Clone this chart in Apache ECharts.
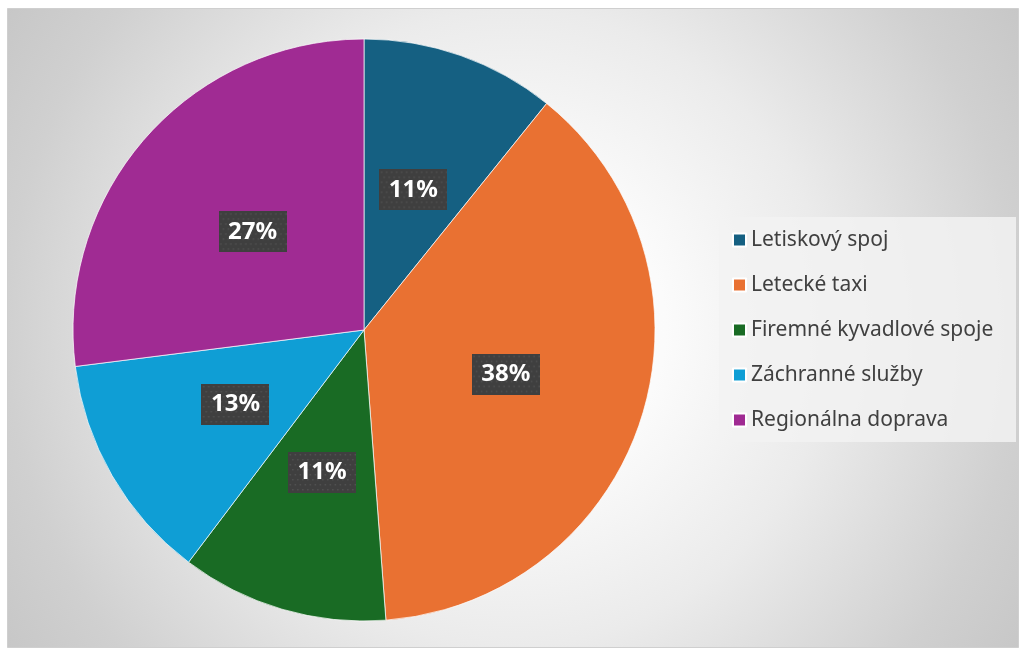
<!DOCTYPE html>
<html>
<head>
<meta charset="utf-8">
<script src="https://cdn.jsdelivr.net/npm/echarts@6/dist/echarts.min.js"></script>
<style>
  html, body { margin: 0; padding: 0; background: #fff; }
  #chart { width: 1019px; height: 648px; }
</style>
</head>
<body>
<div id="chart"></div>
<script>
// categories and shares
var categories = ["Letiskový spoj", "Letecké taxi", "Firemné kyvadlové spoje", "Záchranné služby", "Regionálna doprava"];
var shares = [10.8, 38.0, 11.5, 12.7, 27.0];
var colors = ["#156082", "#E97132", "#196B24", "#0F9ED5", "#A02B93"];

var pieData = categories.map(function (name, i) {
  return { name: name, value: shares[i] };
});

// dotted dark fill for the data label boxes
function dotBox(w, h) {
  var c = document.createElement("canvas");
  c.width = w;
  c.height = h;
  var ctx = c.getContext("2d");
  ctx.fillStyle = "#3f3f3f";
  ctx.fillRect(0, 0, w, h);
  ctx.fillStyle = "#525252";
  for (var y = 2, row = 0; y < h; y += 5, row++) {
    for (var x = (row % 2 ? 4 : 1.5); x < w; x += 5) {
      ctx.fillRect(x, y, 1.5, 1.5);
    }
  }
  return c;
}
var labelBg = dotBox(68, 41);

var chart = echarts.init(document.getElementById("chart"));
chart.setOption({
  color: colors,
  animation: false,
  graphic: [
    {
      type: "rect",
      z: -10,
      shape: { x: 7.5, y: 8.5, width: 1011, height: 639 },
      style: {
        fill: {
          type: "radial", x: 513, y: 328, r: 610, global: true,
          colorStops: [
            { offset: 0, color: "#ffffff" },
            { offset: 0.25, color: "#fbfbfb" },
            { offset: 0.52, color: "#ebebeb" },
            { offset: 0.83, color: "#d0d0d0" },
            { offset: 1, color: "#c6c6c6" }
          ]
        },
        stroke: "#cfcfcf",
        lineWidth: 1
      }
    },
    {
      type: "rect",
      z: -5,
      shape: { x: 719, y: 217, width: 297, height: 225 },
      style: { fill: "rgba(242,242,242,0.85)" }
    }
  ],
  legend: {
    orient: "vertical",
    left: 732,
    top: 229,
    icon: "rect",
    itemWidth: 13,
    itemHeight: 13,
    itemGap: 23,
    padding: 0,
    textStyle: {
      fontFamily: "Noto Sans",
      fontSize: 21,
      lineHeight: 22,
      color: "#404040"
    },
    data: categories
  },
  series: [
    {
      type: "pie",
      center: [364, 330],
      radius: 291,
      startAngle: 90,
      clockwise: true,
      percentPrecision: 0,
      itemStyle: { borderColor: "#ffffff", borderWidth: 0.7 },
      label: {
        position: "inside",
        formatter: "{d}%",
        color: "#ffffff",
        fontFamily: "Noto Sans",
        fontWeight: "bold",
        fontSize: 24,
        width: 52,
        height: 27,
        lineHeight: 27,
        overflow: "none",
        align: "center",
        backgroundColor: { image: labelBg },
        padding: [7, 8, 7, 8],
        shadowColor: "rgba(0,0,0,0.45)",
        shadowBlur: 6,
        shadowOffsetX: 2,
        shadowOffsetY: 3
      },
      labelLine: { show: false },
      emphasis: { disabled: true },
      data: pieData
    }
  ]
});
</script>
</body>
</html>
